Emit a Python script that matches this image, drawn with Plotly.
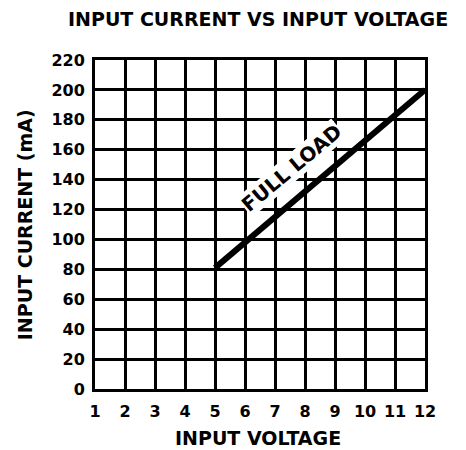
import plotly.graph_objects as go

# Data
voltage = [5, 12]
current_full_load = [81, 200]
x_ticks = list(range(1, 13))
y_ticks = list(range(0, 221, 20))

title_text = "INPUT CURRENT VS INPUT VOLTAGE"
x_title = "INPUT VOLTAGE"
y_title = "INPUT CURRENT (mA)"
line_label = "FULL LOAD"

FONT = "DejaVu Sans"

fig = go.Figure()
fig.add_trace(go.Scatter(
    x=voltage, y=current_full_load, mode="lines",
    line=dict(color="black", width=6), showlegend=False, hoverinfo="skip",
))

fig.update_layout(
    width=466, height=450,
    margin=dict(l=87, r=49, t=52, b=69),
    paper_bgcolor="white", plot_bgcolor="white",
    font=dict(family=FONT, color="black"),
    showlegend=False,
)
fig.update_xaxes(
    range=[1, 12], tickvals=x_ticks, ticktext=[str(v) for v in x_ticks],
    showgrid=True, gridcolor="black", gridwidth=3,
    showline=True, linecolor="black", linewidth=3, mirror=True,
    zeroline=False, ticks="", ticklabelstandoff=6,
    tickfont=dict(family=FONT, size=16, weight="bold", color="black"),
)
fig.update_yaxes(
    range=[0, 220], tickvals=y_ticks, ticktext=[str(v) for v in y_ticks],
    showgrid=True, gridcolor="black", gridwidth=3,
    showline=True, linecolor="black", linewidth=3, mirror=True,
    zeroline=False, ticks="", ticklabelstandoff=4,
    tickfont=dict(family=FONT, size=16, weight="bold", color="black"),
)

def bold(t):
    return "<b>" + t + "</b>"

fig.add_annotation(text=bold(title_text), xref="paper", yref="paper",
                   x=0.494, y=1.125, showarrow=False, xanchor="center", yanchor="middle",
                   font=dict(family=FONT, size=19, color="black"))
fig.add_annotation(text=bold(x_title), xref="paper", yref="paper",
                   x=0.494, y=-0.148, showarrow=False, xanchor="center", yanchor="middle",
                   font=dict(family=FONT, size=19, color="black"))
fig.add_annotation(text=bold(y_title), xref="paper", yref="paper",
                   x=-0.212, y=0.498, showarrow=False, xanchor="center", yanchor="middle",
                   textangle=-90,
                   font=dict(family=FONT, size=19, color="black"))
fig.add_annotation(text=bold(line_label), xref="x", yref="y",
                   x=7.55, y=148, showarrow=False, xanchor="center", yanchor="middle",
                   textangle=-40, bgcolor="white", borderpad=0,
                   font=dict(family=FONT, size=20, color="black"))

fig.write_html("out.html")
